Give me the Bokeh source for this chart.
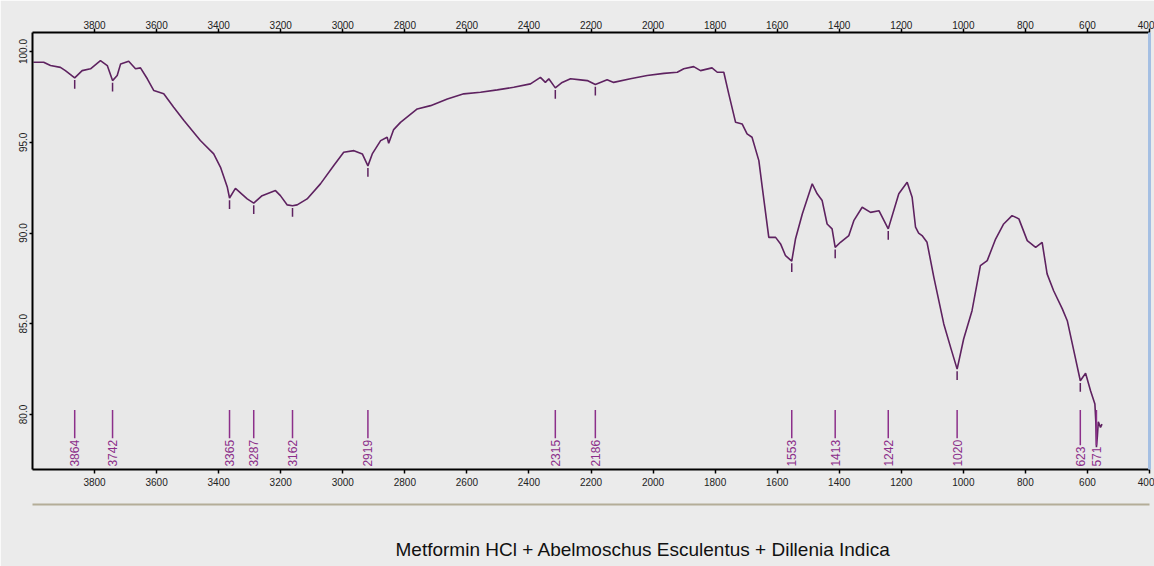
import numpy as np
from bokeh.plotting import figure
from bokeh.models import Range1d, LinearAxis, FixedTicker, NumeralTickFormatter, Title
from bokeh.embed import file_html
from bokeh.resources import INLINE
from bokeh.core.properties import value

# ---------------- data ----------------
wavenumber = [
    3997, 3964, 3942, 3910, 3894, 3864, 3840, 3813, 3781, 3759, 3742, 3727, 3716, 3690,
    3668, 3652, 3630, 3609, 3577, 3545, 3512, 3459, 3416, 3394, 3372, 3365, 3346, 3308,
    3287, 3260, 3217, 3201, 3179, 3162, 3147, 3115, 3072, 3029, 2997, 2964, 2937, 2919,
    2905, 2878, 2857, 2852, 2836, 2814, 2760, 2717, 2663, 2610, 2556, 2502, 2449, 2395,
    2363, 2347, 2336, 2315, 2293, 2266, 2234, 2212, 2186, 2148, 2127, 2073, 2019, 1965,
    1922, 1901, 1869, 1847, 1810, 1793, 1772, 1756, 1734, 1713, 1697, 1681, 1659, 1648,
    1627, 1605, 1589, 1573, 1553, 1541, 1519, 1487, 1471, 1455, 1439, 1423, 1413, 1396,
    1369, 1353, 1326, 1299, 1272, 1242, 1208, 1181, 1165, 1154, 1144, 1133, 1117, 1095,
    1063, 1041, 1020, 999, 972, 945, 923, 896, 870, 843, 821, 794, 767, 746, 730, 709,
    681, 665, 644, 623, 606, 590, 576, 573, 571, 568, 565, 558, 553,
]
transmittance = [
    99.41, 99.41, 99.23, 99.13, 98.95, 98.55, 98.95, 99.05, 99.50, 99.23, 98.40, 98.68, 99.32, 99.47,
    99.05, 99.10, 98.50, 97.85, 97.67, 96.93, 96.20, 95.10, 94.36, 93.62, 92.52, 91.93, 92.46, 91.88,
    91.65, 92.06, 92.34, 92.06, 91.55, 91.50, 91.55, 91.88, 92.71, 93.72, 94.45, 94.54, 94.36, 93.70,
    94.36, 95.09, 95.28, 94.95, 95.70, 96.10, 96.84, 97.02, 97.39, 97.67, 97.76, 97.89, 98.03, 98.22,
    98.58, 98.30, 98.50, 98.00, 98.30, 98.50, 98.44, 98.40, 98.18, 98.44, 98.30, 98.50, 98.68, 98.80,
    98.86, 99.05, 99.17, 98.95, 99.10, 98.86, 98.86, 97.67, 96.10, 96.01, 95.46, 95.28, 93.99, 92.52,
    89.76, 89.76, 89.40, 88.75, 88.45, 89.67, 91.05, 92.71, 92.16, 91.79, 90.50, 90.23, 89.21, 89.49,
    89.86, 90.68, 91.42, 91.14, 91.23, 90.23, 92.16, 92.80, 91.97, 90.32, 90.00, 89.86, 89.49, 87.56,
    84.99, 83.70, 82.50, 84.16, 85.72, 88.20, 88.48, 89.67, 90.50, 90.96, 90.78, 89.58, 89.21, 89.49, 87.75, 86.82,
    85.82, 85.17, 83.52, 81.86, 82.27, 81.31, 80.58, 79.60, 78.20, 78.80, 79.60, 79.29, 79.47,
]

peak_wavenumbers = [3864, 3742, 3365, 3287, 3162, 2919, 2315, 2186, 1553, 1413, 1242, 1020, 623, 571]
peak_transmittance = [98.55, 98.40, 91.93, 91.65, 91.50, 93.70, 98.00, 98.18, 88.45, 89.21, 90.23, 82.50, 81.86, 78.20]
peak_labels = [str(w) for w in peak_wavenumbers]

x_ticks = [3800, 3600, 3400, 3200, 3000, 2800, 2600, 2400, 2200, 2000, 1800, 1600, 1400, 1200, 1000, 800, 600, 400]
y_ticks = [80, 85, 90, 95, 100]
title_text = "Metformin HCl + Abelmoschus Esculentus + Dillenia Indica"

# ---------------- styles ----------------
CURVE = "#5e2260"
PEAK = "#8c2f8a"
FONT = "Liberation Sans"

p = figure(
    width=1154, height=566,
    x_range=Range1d(4000, 400), y_range=Range1d(76.97, 101.05),
    output_backend="svg", toolbar_location=None,
    x_axis_location=None, y_axis_location=None,
    min_border_left=32, min_border_top=32, min_border_right=5, min_border_bottom=97,
    background_fill_color="#e8e8e8", border_fill_color="#ebebeb",
    outline_line_color=None,
)
p.grid.visible = False


def x_axis(standoff):
    return LinearAxis(
        ticker=FixedTicker(ticks=x_ticks),
        axis_line_color="black", axis_line_width=2,
        major_tick_line_color="black", major_tick_line_width=1.5,
        major_tick_out=4, major_tick_in=0, minor_tick_out=0, minor_tick_in=0,
        major_label_standoff=standoff,
        major_label_text_font=FONT, major_label_text_font_size="10px",
        major_label_text_color="#222222",
    )


top_axis = x_axis(0)
p.add_layout(top_axis, "above")

bottom_axis = x_axis(4)
bottom_axis.axis_label = " "
bottom_axis.axis_label_standoff = 2
bottom_axis.axis_label_text_font_size = "10px"
p.add_layout(bottom_axis, "below")

left_axis = LinearAxis(
    ticker=FixedTicker(ticks=y_ticks),
    formatter=NumeralTickFormatter(format="0.0"),
    axis_line_color="black", axis_line_width=2,
    major_tick_line_color="black", major_tick_line_width=1.5,
    major_tick_out=3, major_tick_in=0, minor_tick_out=0, minor_tick_in=0,
    major_label_standoff=2, major_label_orientation="vertical",
    major_label_text_font=FONT, major_label_text_font_size="10px",
    major_label_text_color="#222222",
)
p.add_layout(left_axis, "left")

right_edge = LinearAxis(
    ticker=FixedTicker(ticks=[]),
    axis_line_color="#a4bfe3", axis_line_width=3,
    major_tick_out=0, major_tick_in=0, minor_tick_out=0, minor_tick_in=0,
    major_label_text_font_size="0px",
)
p.add_layout(right_edge, "right")

separator = LinearAxis(
    ticker=FixedTicker(ticks=[]),
    axis_line_color="#b4ad98", axis_line_width=2,
    major_tick_out=0, major_tick_in=0, minor_tick_out=0, minor_tick_in=0,
    major_label_text_font_size="0px",
    axis_label=" ", axis_label_standoff=18, axis_label_text_font_size="10px",
)
p.add_layout(separator, "below")

p.add_layout(Title(
    text=title_text, align="left", offset=363, standoff=0,
    text_font=FONT, text_font_size="19px", text_font_style="normal",
    text_color="#111111",
), "below")

# spectrum
p.line(wavenumber, transmittance, line_color=CURVE, line_width=1.6)

# small marks below each peak (except the last, which sits on its label)
mk_w = peak_wavenumbers[:-1]
mk_t = peak_transmittance[:-1]
p.segment(x0=mk_w, x1=mk_w, y0=[t - 0.12 for t in mk_t], y1=[t - 0.6 for t in mk_t],
          line_color=CURVE, line_width=1.5)

# peak labels along the bottom
label_base = 77.13
line_top = 80.25
line_bottom = [label_base + 0.39 * len(s) for s in peak_labels]
p.segment(x0=peak_wavenumbers, x1=peak_wavenumbers,
          y0=[line_top] * len(peak_wavenumbers), y1=line_bottom,
          line_color=PEAK, line_width=1.5)
p.text(x=peak_wavenumbers, y=[label_base] * len(peak_wavenumbers), text=peak_labels,
       angle=np.pi / 2, text_align="left", text_baseline="middle",
       text_font=value(FONT), text_font_size="12px", text_color=PEAK)

open("out.html", "w").write(file_html(p, INLINE))
